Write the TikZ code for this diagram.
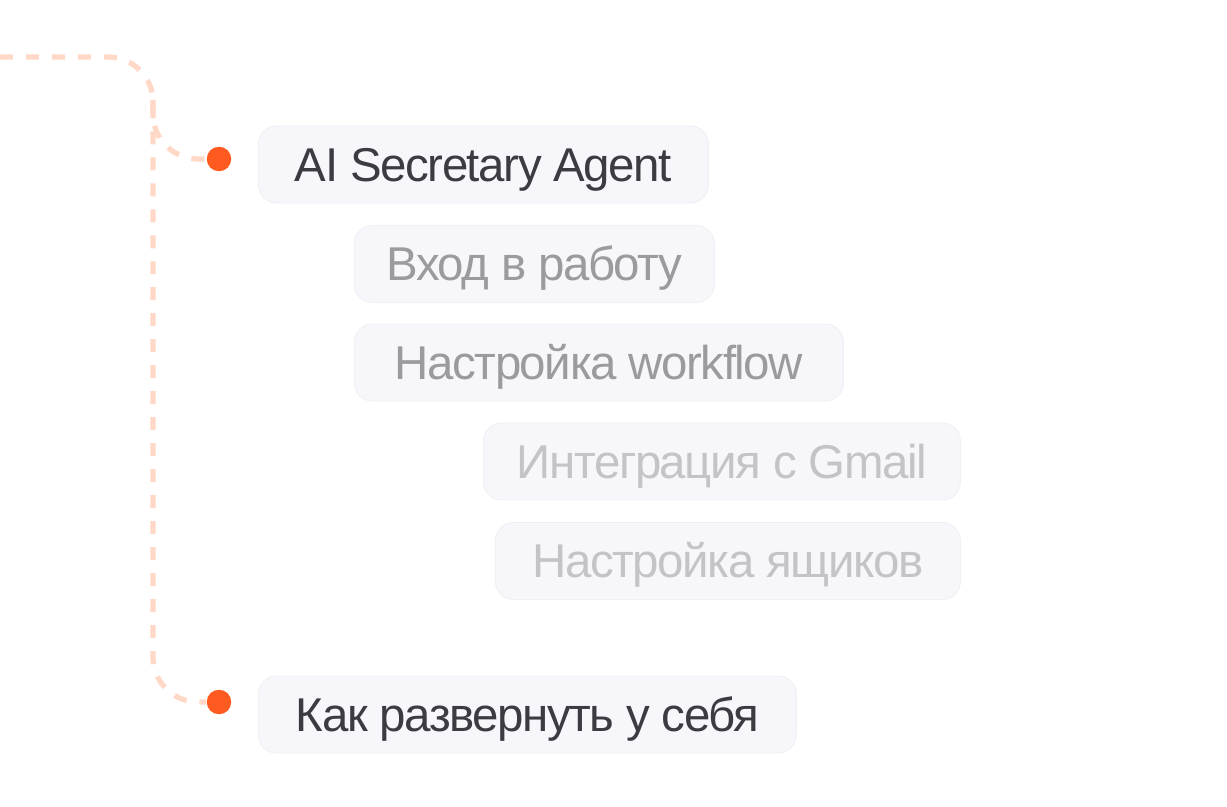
\documentclass[tikz,border=0pt]{standalone}
\usepackage{fontspec}
\newfontfamily\plfont{Liberation Sans}[LetterSpace=-3]
\usetikzlibrary{positioning}
\definecolor{oranzh}{HTML}{FF5A1F}
\definecolor{persik}{HTML}{FFD8C7}
\definecolor{fon}{HTML}{F7F6FA}
\definecolor{kraj}{HTML}{F0EFF4}
\definecolor{tyomny}{HTML}{3C3B41}
\definecolor{sredn}{HTML}{9B9A9F}
\definecolor{svetl}{HTML}{C4C3C8}
\tikzset{
  tochka/.style={circle,fill=oranzh,inner sep=0pt,minimum size=0.49cm},
  puti/.style={draw=persik,line width=0.106cm,dash pattern=on 0.26cm off 0.26cm},
  plashka/.style={rounded corners=0.36cm,fill=fon,draw=kraj,line width=0.5pt,anchor=west,
    inner xsep=0.6cm,inner ysep=0.43cm,text height=0.68cm,text depth=0pt,
    font=\plfont\fontsize{27}{30}\selectfont},
}

\begin{document}
\begin{tikzpicture}[x=0.02cm,y=-0.02cm]
  \fill[white] (0,0) rectangle (1227,807);
  \useasboundingbox (0,0) rectangle (1227,807);
  % punkty
  \node[plashka,text=tyomny,minimum width=9cm] (agent) at (258,164.5) {AI Secretary Agent};
  \node[plashka,text=sredn,minimum width=7.2cm] (vhod) at (354,264) {Вход в работу};
  \node[plashka,text=sredn,minimum width=9.78cm] (workflow) at (354,362.5) {Настройка workflow};
  \node[plashka,text=svetl,minimum width=9.54cm] (gmail) at (483,461.5) {Интеграция с Gmail};
  \node[plashka,text=svetl,minimum width=9.3cm] (yashiki) at (495,561) {Настройка ящиков};
  \node[plashka,text=tyomny,minimum width=10.76cm] (razvernut) at (258,714.5) {Как развернуть у себя};
  % tochki
  \node[tochka] (d1) at (219,159) {};
  \node[tochka] (d2) at (219,702) {};
  % liniya
  \coordinate (start) at (0,57);
  \coordinate (povorot) at (153,57);
  \coordinate (vetka) at (153,100);
  \draw[puti,rounded corners=0.9cm] (start) -- (povorot) |- (d2);
  \draw[puti,rounded corners=0.9cm] (vetka) |- (d1);
\end{tikzpicture}
\end{document}
